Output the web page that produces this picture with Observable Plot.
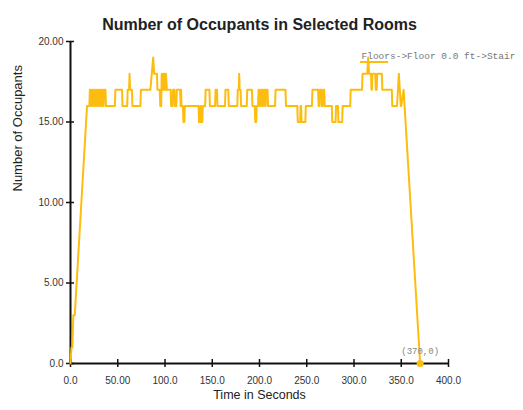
<!DOCTYPE html>
<html><head><meta charset="utf-8">
<script src="https://cdn.jsdelivr.net/npm/d3@7"></script>
<script src="https://cdn.jsdelivr.net/npm/@observablehq/plot@0.6"></script>
<style>
body{margin:0;background:#fff}
g[aria-label="xtick"] text, g[aria-label="ytick"] text{letter-spacing:-0.7px}
g[aria-label="title"] text{letter-spacing:-1px}
</style>
</head><body><div id="chart"></div>
<script>
const title = "Number of Occupants in Selected Rooms";
const xTitle = "Time in Seconds";
const yTitle = "Number of Occupants";
const seriesName = "Floors->Floor 0.0 ft->Stair";
const xTicks = [0, 50, 100, 150, 200, 250, 300, 350, 400];
const xTickLabels = ["0.0", "50.00", "100.0", "150.0", "200.0", "250.0", "300.0", "350.0", "400.0"];
const yTicks = [0, 5, 10, 15, 20];
const yTickLabels = ["0.0", "5.00", "10.00", "15.00", "20.00"];

// time in seconds
const time = [
  0, 1, 2, 3, 4.5, 17.5, 20,
  20.5, 21.5, 22, 23, 23.5, 24.5, 25, 26, 26.5, 27.5, 28, 29, 29.5, 30.5,
  31, 32, 32.5, 33.5, 34, 35, 35.5, 37, 37.5,
  47, 47.5, 54.5, 55, 60, 60.5, 62, 62.5, 63, 65, 65.5, 74, 74.5, 84.5, 87.5, 88.5,
  91.5, 92, 94.5, 95, 96, 96.5, 97.5, 98, 99, 99.5, 100.5, 101, 102,
  106, 106.5, 108, 108.5, 110, 110.5, 112, 112.5, 116, 116.5, 117, 117.5, 119, 119.5,
  120.5, 121, 135.5, 136, 137, 137.5, 138, 138.5, 139.5, 140, 142.5, 143, 147, 147.5,
  153, 153.5, 155, 155.5, 163.5, 164, 167, 167.5, 176.5, 177, 178, 178.5, 179, 180,
  180.5, 186.5, 187, 192, 192.5, 195, 195.5, 196.5, 197, 198.5, 199, 200, 200.5,
  201.5, 202, 203, 203.5, 204, 204.5, 205.5, 206, 206.5, 207, 208.5, 209,
  216.5, 217, 227.5, 228, 240, 240.5, 243, 243.5, 244, 244.5, 248.5, 249, 255.5,
  256, 262, 262.5, 263.5, 264, 265.5, 266, 267, 267.5, 268.5, 269, 276.5, 277,
  280.5, 281, 283, 283.5, 287.5, 288, 296, 296.5, 308.5, 309, 314, 315, 316, 318,
  318.5, 319, 319.5, 322.5, 323, 324, 324.5, 329.5, 330, 340, 340.5, 345.5, 347.5,
  349.5, 350, 352.5, 370
];
// occupants
const occupants = [
  0, 1, 1, 3, 3, 16, 16,
  17, 17, 16, 16, 17, 17, 16, 16, 17, 17, 16, 16, 17, 17,
  16, 16, 17, 17, 16, 16, 17, 17, 16,
  16, 17, 17, 16, 16, 17, 17, 18, 17, 17, 16, 16, 17, 17, 19, 18,
  18, 17, 17, 16, 16, 18, 17, 18, 17, 18, 17, 18, 17,
  17, 16, 16, 17, 17, 16, 16, 17, 17, 16, 17, 16, 16, 15,
  15, 16, 16, 15, 15, 16, 16, 15, 15, 16, 16, 17, 17, 16,
  16, 17, 17, 16, 16, 17, 17, 16, 16, 17, 17, 18, 17, 17,
  16, 16, 17, 17, 16, 16, 15, 15, 16, 16, 17, 17, 16,
  16, 17, 17, 16, 16, 17, 17, 16, 16, 17, 17, 16,
  16, 17, 17, 16, 16, 15, 15, 16, 16, 15, 15, 16, 16,
  17, 17, 16, 16, 17, 17, 16, 16, 17, 17, 16, 16, 15,
  15, 16, 16, 15, 15, 16, 16, 17, 17, 18, 18, 19, 18, 18,
  17, 17, 18, 18, 17, 17, 18, 18, 17, 17, 16, 16, 18,
  16, 16, 17, 0
];

const lineColor = "#fdbd0f";
const data = time.map((t, i) => ({t, v: occupants[i]}));
const last = data[data.length - 1];

const legendSwatch = (index, scales, values, dim) => {
  const x0 = dim.width - dim.marginRight - 88;
  const y0 = dim.marginTop + 21;
  const g = d3.create("svg:line")
    .attr("x1", x0).attr("x2", x0 + 28)
    .attr("y1", y0).attr("y2", y0)
    .attr("stroke", lineColor).attr("stroke-width", 2);
  return g.node();
};

const chart = Plot.plot({
  width: 523, height: 410,
  marginLeft: 70, marginRight: 75, marginTop: 41, marginBottom: 47,
  x: {domain: [0, 400], axis: null},
  y: {domain: [0, 20], axis: null},
  style: {fontFamily: "'Liberation Sans', Arial, sans-serif", background: "white", overflow: "visible"},
  marks: [
    Plot.ruleY([0], {stroke: "#111", strokeWidth: 2}),
    Plot.ruleX([0], {stroke: "#111", strokeWidth: 2}),
    Plot.ruleX(xTicks, {x: d => d, y1: 0, y2: 0, insetTop: -4, insetBottom: -4, stroke: "#111", strokeWidth: 1.5}),
    Plot.ruleY(yTicks, {y: d => d, x1: 0, x2: 0, insetLeft: -4, insetRight: -4, stroke: "#111", strokeWidth: 1.5}),
    Plot.text(xTicks, {x: d => d, y: 0, text: (d, i) => xTickLabels[i], dy: 17, fontSize: 10, fill: "#333", ariaLabel: "xtick"}),
    Plot.text(yTicks, {y: d => d, frameAnchor: "left", text: (d, i) => yTickLabels[i], dx: -7, textAnchor: "end", fontSize: 10, fill: "#333", ariaLabel: "ytick"}),
    Plot.line(data, {x: "t", y: "v", stroke: lineColor, strokeWidth: 2}),
    Plot.dot([last], {x: "t", y: "v", r: 3.5, fill: lineColor}),
    Plot.text([last], {x: "t", y: "v", text: d => `(${d.t},${d.v})`, dy: -12, fontFamily: "'Liberation Mono', monospace", fontSize: 9, fill: "#888"}),
    Plot.text([seriesName], {frameAnchor: "top-right", textAnchor: "start", dx: -87, dy: 11, fontFamily: "'Liberation Mono', monospace", fontSize: 9.5, fill: "#777"}),
    legendSwatch,
    Plot.text([title], {frameAnchor: "top", dy: -23, fontSize: 16, fontWeight: "bold", fill: "#222", ariaLabel: "title"}),
    Plot.text([xTitle], {frameAnchor: "bottom", dy: 35, fontSize: 12.5, fill: "#222"}),
    Plot.text([yTitle], {frameAnchor: "left", dx: -53, dy: -11, rotate: -90, fontSize: 13, fill: "#222"})
  ]
});
document.getElementById("chart").appendChild(chart);
</script>
</body></html>
